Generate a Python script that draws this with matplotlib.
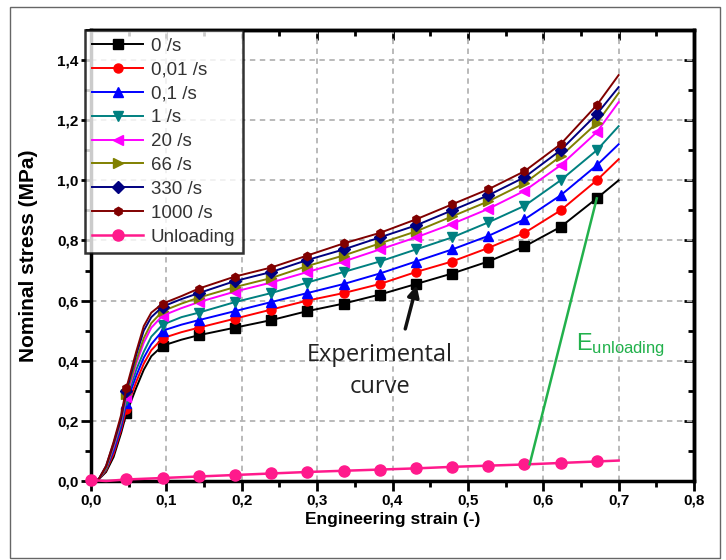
import numpy as np
import matplotlib
matplotlib.use('Agg')
import matplotlib.pyplot as plt
from matplotlib.ticker import MultipleLocator, FuncFormatter
from matplotlib.patches import Rectangle

# ---- data ----
strain = [0, 0.01, 0.02, 0.03, 0.04, 0.047, 0.06, 0.07, 0.08, 0.095, 0.12, 0.143,
          0.191, 0.239, 0.287, 0.335, 0.383, 0.431, 0.479, 0.527, 0.575, 0.623, 0.671, 0.7]

s_0 = [0, 0.005, 0.03, 0.08, 0.16, 0.225, 0.31, 0.37, 0.415, 0.45, 0.47, 0.485,
       0.51, 0.535, 0.565, 0.59, 0.62, 0.655, 0.69, 0.73, 0.78, 0.845, 0.94, 1.0]
s_001 = [0, 0.005, 0.035, 0.09, 0.17, 0.24, 0.33, 0.39, 0.435, 0.475, 0.495, 0.51,
         0.54, 0.57, 0.60, 0.625, 0.655, 0.695, 0.73, 0.775, 0.825, 0.90, 1.0, 1.07]
s_01 = [0, 0.005, 0.04, 0.10, 0.18, 0.26, 0.35, 0.41, 0.455, 0.50, 0.52, 0.535,
        0.565, 0.595, 0.625, 0.655, 0.69, 0.73, 0.77, 0.815, 0.87, 0.95, 1.05, 1.12]
s_1 = [0, 0.005, 0.04, 0.11, 0.19, 0.27, 0.37, 0.43, 0.48, 0.52, 0.545, 0.56,
       0.595, 0.625, 0.66, 0.695, 0.73, 0.77, 0.81, 0.86, 0.915, 1.0, 1.10, 1.18]
s_20 = [0, 0.005, 0.045, 0.115, 0.2, 0.28, 0.39, 0.46, 0.51, 0.55, 0.575, 0.595,
        0.63, 0.66, 0.695, 0.73, 0.77, 0.81, 0.855, 0.905, 0.965, 1.05, 1.16, 1.26]
s_66 = [0, 0.005, 0.045, 0.12, 0.205, 0.29, 0.40, 0.475, 0.525, 0.565, 0.59, 0.61,
        0.645, 0.675, 0.715, 0.75, 0.79, 0.83, 0.88, 0.93, 0.99, 1.08, 1.19, 1.29]
s_330 = [0, 0.005, 0.05, 0.125, 0.21, 0.30, 0.42, 0.50, 0.545, 0.58, 0.605, 0.625,
         0.665, 0.695, 0.735, 0.77, 0.81, 0.85, 0.90, 0.95, 1.01, 1.10, 1.22, 1.31]
s_1000 = [0, 0.005, 0.05, 0.13, 0.22, 0.31, 0.43, 0.515, 0.56, 0.59, 0.615, 0.64,
          0.68, 0.71, 0.75, 0.79, 0.825, 0.87, 0.92, 0.97, 1.03, 1.12, 1.25, 1.35]

unload_strain = [0, 0.02, 0.047, 0.095, 0.143, 0.191, 0.239, 0.287, 0.335, 0.383,
                 0.431, 0.479, 0.527, 0.575, 0.623, 0.671, 0.7]
unload_stress = [0.003, 0.0, 0.005, 0.01, 0.015, 0.02, 0.025, 0.03, 0.034, 0.038,
                 0.042, 0.047, 0.051, 0.055, 0.06, 0.065, 0.068]

labels = ['0 /s', '0,01 /s', '0,1 /s', '1 /s', '20 /s', '66 /s', '330 /s', '1000 /s']
series = [s_0, s_001, s_01, s_1, s_20, s_66, s_330, s_1000]
colors = ['#000000', '#ff0000', '#0000ff', '#008080', '#ff00ff', '#808000', '#000080', '#800000']
markers = ['s', 'o', '^', 'v', '<', '>', 'D', 'h']

# E_unloading line: from 0 /s curve down to the unloading curve
e_line_x = [0.671, 0.582]
e_line_y = [0.94, 0.056]

mark_idx = [5, 9] + list(range(11, 23))

fig = plt.figure(figsize=(7.26, 5.6), dpi=100)
ax = fig.add_axes([91/726, 1-481/560, (694-91)/726, (481-30)/560])

for y, lab, c, m in zip(series, labels, colors, markers):
    ms = 6 if m in ('D', 'h') else 6.5
    ax.plot(strain, y, color=c, lw=1.4, marker=m, ms=ms, markevery=mark_idx,
            label=lab, zorder=3)
ax.plot(unload_strain, unload_stress, color='#ff1a8c', lw=1.8, marker='o', ms=8,
        markevery=[0] + list(range(2, 16)), label='Unloading', zorder=3,
        clip_on=False)

ax.plot(e_line_x, e_line_y, color='#22b14c', lw=1.8, zorder=4)
ax.text(0.643, 0.437, r'$\mathregular{E_{unloading}}$', color='#22b14c', fontsize=17,
        family='Liberation Sans', ha='left', va='baseline')

ax.annotate('', xy=(0.433, 0.66), xytext=(0.416, 0.497),
            arrowprops=dict(arrowstyle='-|>', lw=2.5, color='#111111', mutation_scale=17))
ax.text(0.383, 0.365, 'Experimental\ncurve', ha='center', va='center', fontsize=17,
        family='Open Sans', color='#222222', linespacing=1.45)

ax.set_xlim(0, 0.8)
ax.set_ylim(0, 1.5)
ax.xaxis.set_major_locator(MultipleLocator(0.1))
ax.xaxis.set_minor_locator(MultipleLocator(0.05))
ax.yaxis.set_major_locator(MultipleLocator(0.2))
ax.yaxis.set_minor_locator(MultipleLocator(0.1))
fmt = FuncFormatter(lambda v, p: f'{v:.1f}'.replace('.', ','))
ax.xaxis.set_major_formatter(fmt)
ax.yaxis.set_major_formatter(fmt)

ax.grid(True, which='major', color='#b4b4b4', linestyle=(0, (3, 2.5)), lw=1.3, zorder=0)
ax.set_axisbelow(True)

for sp in ax.spines.values():
    sp.set_linewidth(2.5)
ax.tick_params(which='major', direction='out', length=7, width=2, labelsize=11, pad=2,
               top=False, right=False)
ax.tick_params(which='minor', direction='out', length=4, width=2, top=False, right=False)
for lab in ax.get_xticklabels() + ax.get_yticklabels():
    lab.set_fontweight('bold')
    lab.set_family('Liberation Sans')

# mirrored inward ticks on top and right
axt = ax.secondary_xaxis('top')
axt.xaxis.set_major_locator(MultipleLocator(0.1))
axt.xaxis.set_minor_locator(MultipleLocator(0.05))
axt.tick_params(which='major', direction='in', length=7, width=2, labeltop=False)
axt.tick_params(which='minor', direction='in', length=4, width=2)
axt.spines['top'].set_linewidth(2.5)
axr = ax.secondary_yaxis('right')
axr.yaxis.set_major_locator(MultipleLocator(0.2))
axr.yaxis.set_minor_locator(MultipleLocator(0.1))
axr.tick_params(which='major', direction='in', length=7, width=2, labelright=False)
axr.tick_params(which='minor', direction='in', length=4, width=2)
axr.spines['right'].set_linewidth(2.5)

ax.set_xlabel('Engineering strain (-)', fontsize=12.5, fontweight='bold', family='Liberation Sans')
ax.set_ylabel('Nominal stress (MPa)', fontsize=15, fontweight='bold', family='Liberation Sans')
ax.xaxis.set_label_coords(0.5, -0.068)
ax.yaxis.set_label_coords(-0.088, 0.5)

leg = ax.legend(loc='upper left', bbox_to_anchor=(-0.01, 1.0), borderaxespad=0,
                frameon=True, fancybox=False, edgecolor='black',
                handlelength=2.7, handletextpad=0.4, labelspacing=0.36, borderpad=0.4,
                prop={'family': 'Liberation Sans', 'size': 13.5})
leg.get_frame().set_linewidth(1.8)
for t in leg.get_texts():
    t.set_color('#333333')
leg.set_zorder(5)

fig.patches.append(Rectangle((10/726, 2/560), 710/726, 551/560, transform=fig.transFigure,
                             fill=False, edgecolor='#666666', lw=1.0))

fig.savefig('out.png', dpi=100)
